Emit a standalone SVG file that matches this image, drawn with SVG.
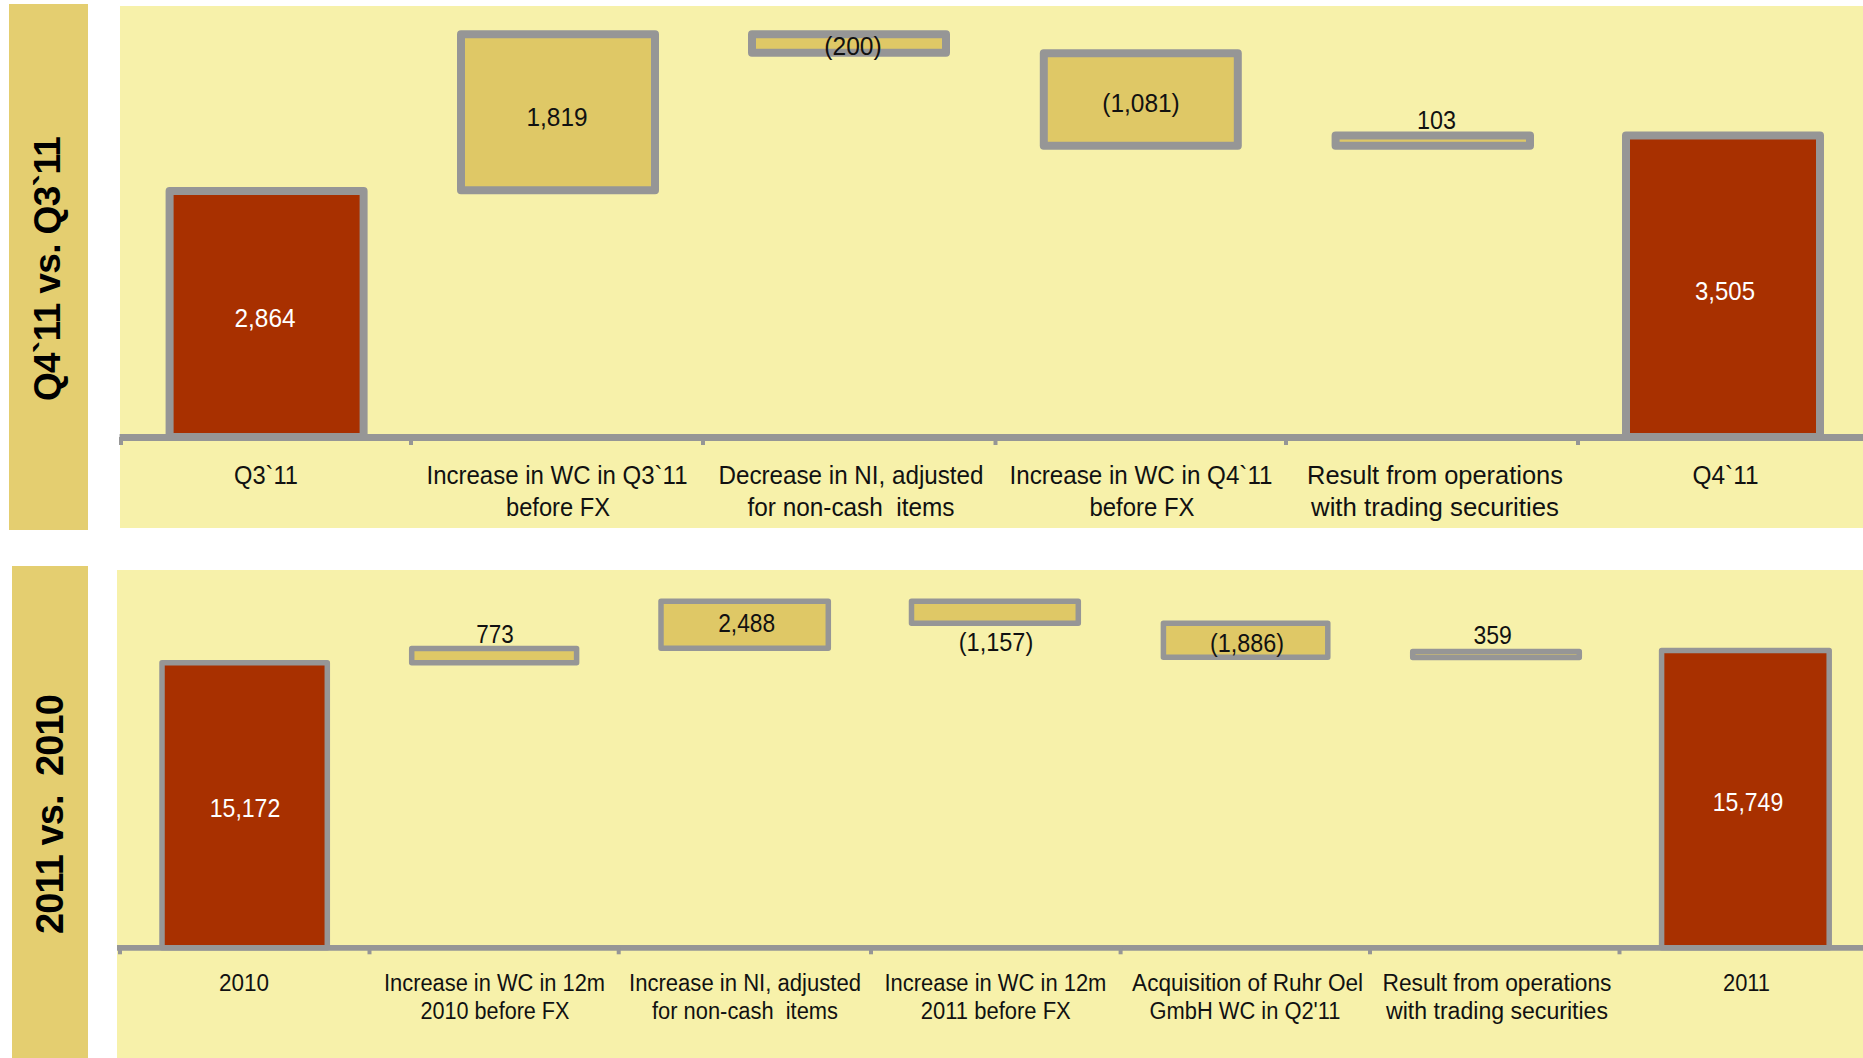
<svg xmlns="http://www.w3.org/2000/svg" width="1863" height="1058" viewBox="0 0 1863 1058">
<style>
.bg{fill:#ffffff}
.panel{fill:#F7F1AA}
.band{fill:#E4CE70}
.red{fill:#A83000;stroke:#969696;stroke-linejoin:round}
.gold{fill:#DFC866;stroke:#969696;stroke-linejoin:round}
.t8{stroke-width:8}
.t5{stroke-width:5.5}
.axis{stroke:#969696;fill:none}
.tick{stroke:#969696;stroke-width:4}
.side{font-family:"Liberation Sans",Arial,sans-serif;font-weight:bold;fill:#000;text-anchor:middle}
.lab{font-family:"Liberation Sans",Arial,sans-serif;fill:#111;text-anchor:middle}
.val{font-family:"Liberation Sans",Arial,sans-serif;fill:#111;text-anchor:middle}
.wval{font-family:"Liberation Sans",Arial,sans-serif;fill:#fff;text-anchor:middle}
.tl{font-size:25.5px}
.bl{font-size:23px}
.tv{font-size:26px}
.bv{font-size:26px}
</style>
<rect class="bg" x="0" y="0" width="1863" height="1058"/>

<!-- Top section -->
<g id="top-section">
  <rect class="band" x="9" y="4" width="79" height="526"/>
  <text class="side" font-size="37" textLength="265" transform="translate(60,268.6) rotate(-90)">Q4`11 vs. Q3`11</text>
  <rect class="panel" x="120" y="6" width="1743" height="522"/>
</g>

<!-- Bottom section -->
<g id="bottom-section">
  <rect class="band" x="12" y="566" width="76" height="492"/>
  <text class="side" font-size="38" textLength="240" xml:space="preserve" transform="translate(63,814) rotate(-90)">2011 vs.  2010</text>
  <rect class="panel" x="117" y="570" width="1746" height="488"/>
</g>

<!-- Top chart bars -->
<g id="top-q3">
  <rect class="red t8" x="169.6" y="191" width="194" height="246"/>
  <text class="wval tv" x="265" y="326.5" textLength="61" lengthAdjust="spacingAndGlyphs">2,864</text>
  <text class="lab tl" x="266" y="483.5" textLength="64" lengthAdjust="spacingAndGlyphs">Q3`11</text>
</g>
<g id="top-wc-q3">
  <rect class="gold t8" x="461" y="34.3" width="194" height="156"/>
  <text class="val tv" x="557" y="125.7" textLength="61" lengthAdjust="spacingAndGlyphs">1,819</text>
  <text class="lab tl" x="557" y="483.5" textLength="261" lengthAdjust="spacingAndGlyphs">Increase in WC in Q3`11</text>
  <text class="lab tl" x="558" y="515.5" textLength="104" lengthAdjust="spacingAndGlyphs">before FX</text>
</g>
<g id="top-ni">
  <rect class="gold t8" x="752" y="34.3" width="194" height="18.5"/>
  <text class="val tv" x="853" y="55" textLength="57.5" lengthAdjust="spacingAndGlyphs">(200)</text>
  <text class="lab tl" x="851" y="483.5" textLength="265" lengthAdjust="spacingAndGlyphs">Decrease in NI, adjusted</text>
  <text class="lab tl" x="851" y="515.5" textLength="207" lengthAdjust="spacingAndGlyphs" xml:space="preserve">for non-cash  items</text>
</g>
<g id="top-wc-q4">
  <rect class="gold t8" x="1043.8" y="53.3" width="194" height="92.5"/>
  <text class="val tv" x="1141" y="112" textLength="77.5" lengthAdjust="spacingAndGlyphs">(1,081)</text>
  <text class="lab tl" x="1141" y="483.5" textLength="263" lengthAdjust="spacingAndGlyphs">Increase in WC in Q4`11</text>
  <text class="lab tl" x="1142" y="515.5" textLength="105" lengthAdjust="spacingAndGlyphs">before FX</text>
</g>
<g id="top-trading">
  <rect class="gold t8" x="1335.6" y="135.6" width="194.4" height="10.2"/>
  <text class="val tv" x="1436.5" y="129.2" textLength="39" lengthAdjust="spacingAndGlyphs">103</text>
  <text class="lab tl" x="1435" y="483.5" textLength="256" lengthAdjust="spacingAndGlyphs">Result from operations</text>
  <text class="lab tl" x="1435" y="515.5" textLength="248" lengthAdjust="spacingAndGlyphs">with trading securities</text>
</g>
<g id="top-q4">
  <rect class="red t8" x="1626" y="135.6" width="194" height="301.4"/>
  <text class="wval tv" x="1725" y="299.6" textLength="60" lengthAdjust="spacingAndGlyphs">3,505</text>
  <text class="lab tl" x="1725.5" y="483.5" textLength="66" lengthAdjust="spacingAndGlyphs">Q4`11</text>
</g>

<!-- Bottom chart bars -->
<g id="bot-2010">
  <rect class="red t5" x="162" y="662.8" width="165.3" height="285"/>
  <text class="wval bv" x="245" y="817" textLength="70.5" lengthAdjust="spacingAndGlyphs">15,172</text>
  <text class="lab bl" x="244" y="990.7" textLength="50" lengthAdjust="spacingAndGlyphs">2010</text>
</g>
<g id="bot-wc-2010">
  <rect class="gold t5" x="411.7" y="648.5" width="164.9" height="14.3"/>
  <text class="val bv" x="495" y="643.3" textLength="37.5" lengthAdjust="spacingAndGlyphs">773</text>
  <text class="lab bl" x="494.5" y="990.7" textLength="221" lengthAdjust="spacingAndGlyphs">Increase in WC in 12m</text>
  <text class="lab bl" x="495" y="1019.3" textLength="149" lengthAdjust="spacingAndGlyphs">2010 before FX</text>
</g>
<g id="bot-ni">
  <rect class="gold t5" x="661" y="601.2" width="167.3" height="47"/>
  <text class="val bv" x="746.7" y="632.3" textLength="57" lengthAdjust="spacingAndGlyphs">2,488</text>
  <text class="lab bl" x="745" y="990.7" textLength="232" lengthAdjust="spacingAndGlyphs">Increase in NI, adjusted</text>
  <text class="lab bl" x="745" y="1019.3" textLength="186" lengthAdjust="spacingAndGlyphs" xml:space="preserve">for non-cash  items</text>
</g>
<g id="bot-wc-2011">
  <rect class="gold t5" x="911.5" y="601.2" width="166.8" height="22"/>
  <text class="val bv" x="996" y="650.7" textLength="74.5" lengthAdjust="spacingAndGlyphs">(1,157)</text>
  <text class="lab bl" x="995.4" y="990.7" textLength="222" lengthAdjust="spacingAndGlyphs">Increase in WC in 12m</text>
  <text class="lab bl" x="995.8" y="1019.3" textLength="150" lengthAdjust="spacingAndGlyphs">2011 before FX</text>
</g>
<g id="bot-ruhr">
  <rect class="gold t5" x="1163.4" y="623.3" width="164.4" height="34"/>
  <text class="val bv" x="1247" y="651.7" textLength="74" lengthAdjust="spacingAndGlyphs">(1,886)</text>
  <text class="lab bl" x="1247.6" y="990.7" textLength="231" lengthAdjust="spacingAndGlyphs">Acquisition of Ruhr Oel</text>
  <text class="lab bl" x="1245" y="1019.3" textLength="191" lengthAdjust="spacingAndGlyphs">GmbH WC in Q2'11</text>
</g>
<g id="bot-trading">
  <rect class="gold t5" x="1412.7" y="651.5" width="166.6" height="6"/>
  <text class="val bv" x="1492.6" y="644.3" textLength="38.4" lengthAdjust="spacingAndGlyphs">359</text>
  <text class="lab bl" x="1497" y="990.7" textLength="229" lengthAdjust="spacingAndGlyphs">Result from operations</text>
  <text class="lab bl" x="1497" y="1019.3" textLength="222" lengthAdjust="spacingAndGlyphs">with trading securities</text>
</g>
<g id="bot-2011">
  <rect class="red t5" x="1661.6" y="650.5" width="167.6" height="297.3"/>
  <text class="wval bv" x="1748" y="811" textLength="70.4" lengthAdjust="spacingAndGlyphs">15,749</text>
  <text class="lab bl" x="1746.5" y="990.7" textLength="47" lengthAdjust="spacingAndGlyphs">2011</text>
</g>

<!-- Axes -->
<g id="connectors">
  <line class="axis" x1="119.6" y1="437.5" x2="1863" y2="437.5" stroke-width="7"/>
  <line class="tick" x1="121" y1="437" x2="121" y2="445"/>
  <line class="tick" x1="411" y1="437" x2="411" y2="445"/>
  <line class="tick" x1="703" y1="437" x2="703" y2="445"/>
  <line class="tick" x1="995.5" y1="437" x2="995.5" y2="445"/>
  <line class="tick" x1="1286" y1="437" x2="1286" y2="445"/>
  <line class="tick" x1="1578" y1="437" x2="1578" y2="445"/>

  <line class="axis" x1="117" y1="947.8" x2="1863" y2="947.8" stroke-width="5.7"/>
  <line class="tick" x1="120" y1="947" x2="120" y2="954.3"/>
  <line class="tick" x1="369.5" y1="947" x2="369.5" y2="954.3"/>
  <line class="tick" x1="618.7" y1="947" x2="618.7" y2="954.3"/>
  <line class="tick" x1="871" y1="947" x2="871" y2="954.3"/>
  <line class="tick" x1="1120.6" y1="947" x2="1120.6" y2="954.3"/>
  <line class="tick" x1="1370" y1="947" x2="1370" y2="954.3"/>
  <line class="tick" x1="1619.5" y1="947" x2="1619.5" y2="954.3"/>
</g>
</svg>
